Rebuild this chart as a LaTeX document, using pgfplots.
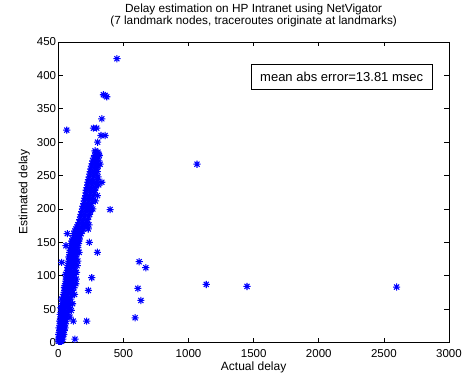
\documentclass[border=0pt]{standalone}
\usepackage{fontspec}
\setmainfont{Liberation Sans}
\usepackage{pgfplots}
\pgfplotsset{compat=1.18}
\pgfdeclareplotmark{mstar}{%
  \pgfpathmoveto{\pgfqpoint{-\pgfplotmarksize}{0pt}}%
  \pgfpathlineto{\pgfqpoint{\pgfplotmarksize}{0pt}}%
  \pgfpathmoveto{\pgfqpoint{0pt}{-\pgfplotmarksize}}%
  \pgfpathlineto{\pgfqpoint{0pt}{\pgfplotmarksize}}%
  \pgfpathmoveto{\pgfqpoint{-0.707\pgfplotmarksize}{-0.707\pgfplotmarksize}}%
  \pgfpathlineto{\pgfqpoint{0.707\pgfplotmarksize}{0.707\pgfplotmarksize}}%
  \pgfpathmoveto{\pgfqpoint{-0.707\pgfplotmarksize}{0.707\pgfplotmarksize}}%
  \pgfpathlineto{\pgfqpoint{0.707\pgfplotmarksize}{-0.707\pgfplotmarksize}}%
  \pgfusepathqstroke}
\begin{document}
\begin{tikzpicture}
\useasboundingbox (0,0) rectangle (466pt,377pt);
\begin{axis}[
  at={(58.3pt,34.5pt)}, anchor=south west,
  scale only axis, width=390.7pt, height=300.5pt,
  xmin=0, xmax=3000, ymin=0, ymax=450,
  xtick={0,500,...,3000}, ytick={0,50,...,450},
  scaled ticks=false,
  /pgf/number format/set thousands separator={},
  /pgf/number format/assume math mode=true,
  tick align=inside, major tick length=4.5pt,
  tick style={black, line width=0.7pt},
  axis line style={line width=0.8pt},
  tick label style={font=\fontsize{11.5}{13}\selectfont, inner sep=0pt},
  xticklabel style={yshift=-6.5pt},
  yticklabel style={xshift=-2pt},
  every axis x label/.style={at={(axis description cs:0.5,-0.0938)}, anchor=base, font=\fontsize{12}{14}\selectfont},
  every axis y label/.style={at={(axis description cs:-0.0794,0.5)}, rotate=90, anchor=base, font=\fontsize{12}{14}\selectfont},
  xlabel={Actual delay}, ylabel={Estimated delay},
  title style={at={(axis description cs:0.5,1)}, anchor=south, yshift=8.7pt, inner sep=0pt, align=center, font=\fontsize{11.8}{12.5}\selectfont},
  title={Delay estimation on HP Intranet using NetVigator\\(7 landmark nodes, traceroutes originate at landmarks)},
  clip=false,
]
\addplot[only marks, mark=mstar, mark size=3.6pt, color=blue, mark options={line width=1.05pt}] coordinates {
(2,2) (8,2) (15,2) (25,2)
(3,5) (12,5) (20,5) (35,5)
(5,8) (15,8) (28,8)
(4,12) (18,12) (30,12) (42,12)
(8,15) (22,15) (38,15)
(10,18) (25,18) (45,18)
(6,22) (20,22) (35,22) (52,22)
(12,25) (30,25) (48,25)
(15,28) (28,28) (55,28)
(10,32) (25,32) (42,32) (60,32)
(18,35) (35,35) (58,35)
(20,38) (40,38) (65,38) (90,38)
(15,42) (30,42) (50,42) (72,42)
(22,45) (45,45) (68,45)
(25,48) (50,48) (78,48) (100,48)
(20,52) (38,52) (60,52) (85,52)
(28,55) (52,55) (75,55)
(30,58) (55,58) (88,58) (110,58)
(35,62) (60,62) (82,62)
(25,65) (45,65) (70,65) (95,65)
(38,68) (62,68) (90,68)
(40,72) (65,72) (100,72) (125,72)
(45,75) (72,75) (95,75)
(50,78) (78,78) (108,78)
(48,82) (70,82) (92,82) (120,82)
(52,85) (80,85) (105,85)
(55,88) (85,88) (115,88) (135,88)
(58,92) (82,92) (100,92)
(60,95) (88,95) (112,95) (138,95)
(62,98) (90,98) (120,98)
(55,102) (78,102) (98,102) (125,102)
(68,105) (95,105) (118,105) (140,105)
(70,108) (92,108) (130,108)
(72,112) (98,112) (115,112)
(75,115) (100,115) (122,115) (145,115)
(78,118) (105,118) (128,118)
(80,122) (102,122) (120,122) (150,122)
(85,125) (108,125) (130,125)
(82,128) (110,128) (135,128)
(90,132) (112,132) (140,132)
(88,135) (115,135) (138,135) (160,135)
(92,138) (118,138) (142,138)
(95,142) (120,142) (150,142)
(98,145) (125,145) (148,145)
(100,148) (128,148) (155,148)
(105,152) (130,152) (158,152)
(110,155) (135,155) (162,155)
(118,160) (140,160) (165,160)
(120,163) (150,163) (175,163)
(128,167) (155,167) (185,167)
(135,170) (165,170) (190,170) (230,170)
(145,173) (175,173) (205,173)
(150,176) (185,176) (215,176) (235,176)
(160,180) (190,180) (220,180)
(165,184) (195,184) (225,184)
(170,188) (200,188) (232,188)
(175,192) (205,192) (240,192)
(180,196) (212,196) (245,196)
(185,200) (215,200) (250,200) (265,200)
(190,204) (220,204) (240,204)
(195,208) (225,208) (255,208)
(200,212) (230,212) (260,212) (285,212)
(205,216) (235,216) (262,216)
(210,220) (240,220) (270,220) (300,220)
(212,224) (245,224) (275,224)
(215,228) (250,228) (280,228)
(220,232) (252,232) (285,232)
(225,236) (258,236) (290,236) (310,236)
(228,240) (262,240) (295,240)
(232,244) (265,244) (300,244)
(238,248) (270,248) (305,248)
(242,252) (275,252) (290,252)
(245,256) (278,256) (300,256)
(250,260) (282,260) (295,260)
(255,264) (285,264) (305,264)
(260,268) (288,268) (300,268)
(265,272) (290,272) (310,272)
(270,276) (295,276)
(280,280) (300,280) (315,280)
(285,285) (305,285)
(450,425) (346,371) (360,370) (372,368) (334,335) (65,318)
(270,321) (295,321) (328,310) (359,310) (302,300) (282,287) (308,282)
(321,267) (334,240) (398,199) (244,198) (69,163) (59,145) (238,150)
(300,135) (26,120) (257,97) (231,78) (621,121) (672,112) (611,81)
(634,63) (590,37) (218,32) (115,32) (128,5)
(1065,267) (1136,87) (1449,84) (2598,83)
};
\node[draw=black, line width=0.7pt, fill=white, minimum width=181pt, minimum height=25pt, inner sep=0pt, font=\fontsize{13}{15}\selectfont] at (axis cs:2176,398) {mean abs error=13.81 msec};
\end{axis}
\end{tikzpicture}
\end{document}
